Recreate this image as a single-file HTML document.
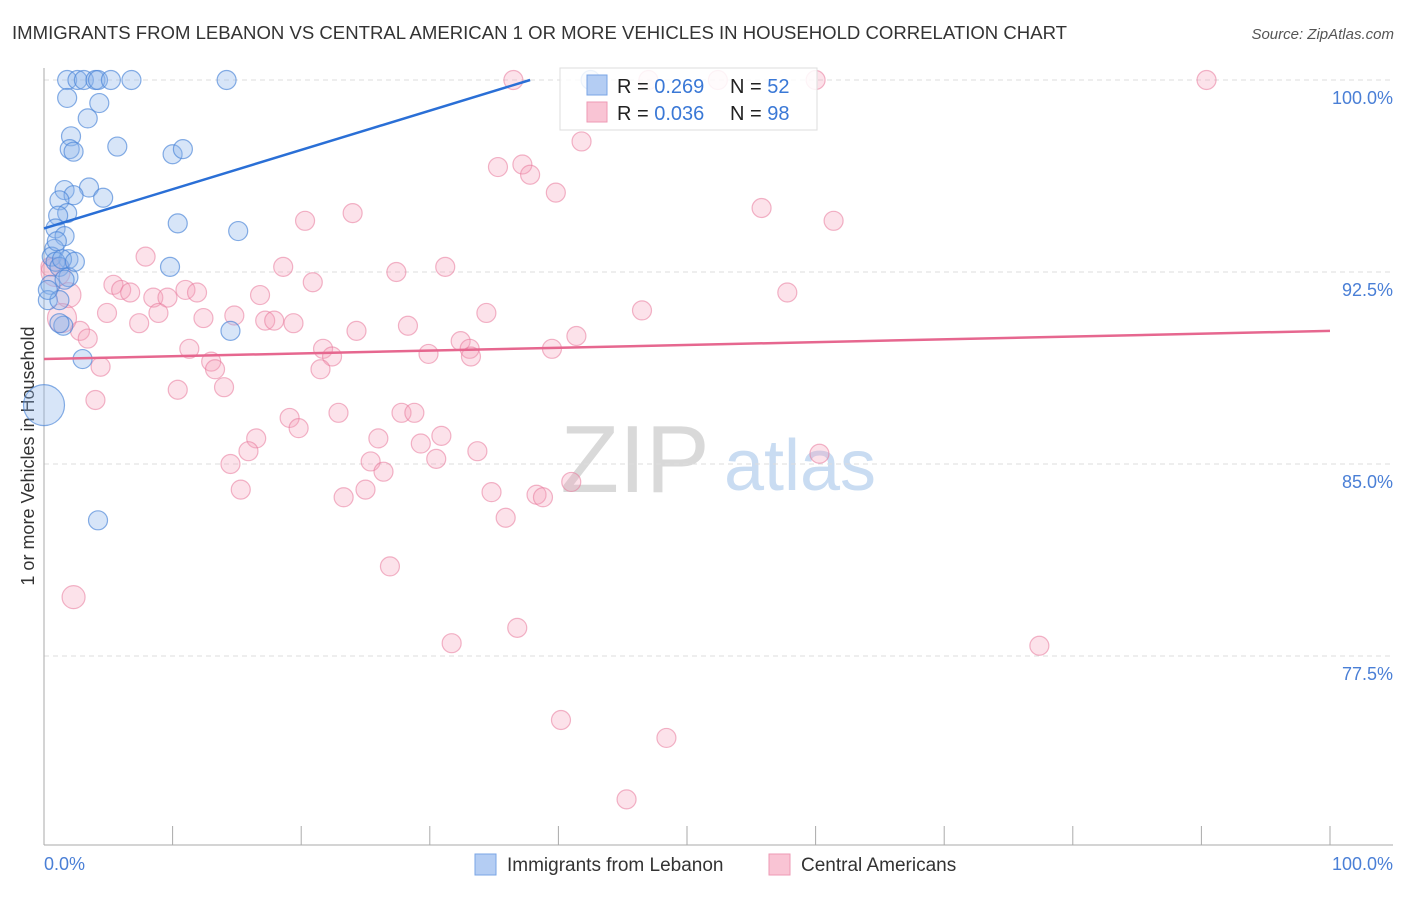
<!DOCTYPE html>
<html><head><meta charset="utf-8"><style>
body{margin:0;background:#fff;font-family:"Liberation Sans",sans-serif;}
svg text{font-family:"Liberation Sans",sans-serif;}
</style></head><body>
<svg id="chart" width="1406" height="892" xmlns="http://www.w3.org/2000/svg">
<text x="12" y="39" font-size="18" fill="#333" textLength="1055" lengthAdjust="spacingAndGlyphs">IMMIGRANTS FROM LEBANON VS CENTRAL AMERICAN 1 OR MORE VEHICLES IN HOUSEHOLD CORRELATION CHART</text>
<text x="1394" y="39" font-size="15" fill="#555" font-style="italic" text-anchor="end">Source: ZipAtlas.com</text>
<text transform="translate(34,456) rotate(-90)" font-size="18" fill="#333" text-anchor="middle">1 or more Vehicles in Household</text>
<g>
<text x="635" y="492" font-size="96" fill="#d9d9d9" text-anchor="middle" font-family="Liberation Serif">ZIP</text>
<text x="800" y="490" font-size="72" fill="#c9dcf2" text-anchor="middle">atlas</text>
</g>
<g id="grid"></g><g id="axes"></g><g id="pts"></g><g id="trend"></g>
<g>
<rect x="560" y="68" width="257" height="62" fill="rgba(255,255,255,0.85)" stroke="#ddd"/>
<rect x="587" y="75" width="20" height="20" fill="#b4cdf3" stroke="#7aa5e6"/>
<rect x="587" y="102" width="20" height="20" fill="#f9c4d4" stroke="#ee9ab4"/>
<text x="617" y="93" font-size="20" fill="#222">R = <tspan fill="#3a78d6">0.269</tspan><tspan x="730">N = </tspan><tspan fill="#3a78d6">52</tspan></text>
<text x="617" y="120" font-size="20" fill="#222">R = <tspan fill="#3a78d6">0.036</tspan><tspan x="730">N = </tspan><tspan fill="#3a78d6">98</tspan></text>
</g>
<g>
<rect x="475" y="854" width="21" height="21" fill="#b4cdf3" stroke="#7aa5e6"/>
<text x="507" y="871" font-size="19" fill="#333">Immigrants from Lebanon</text>
<rect x="769" y="854" width="21" height="21" fill="#f9c4d4" stroke="#ee9ab4"/>
<text x="801" y="871" font-size="19" fill="#333">Central Americans</text>
</g>
</svg>
<script>
const blueX=[1.8,2.6,3.1,4.0,4.2,5.2,6.8,14.2,42.5,1.8,4.3,3.4,5.7,2.1,2.0,2.3,10.0,10.8,1.6,3.5,2.3,1.2,4.6,1.8,1.1,10.4,15.1,0.9,1.6,0.8,0.6,1.9,0.9,1.2,9.8,1.9,0.5,0.3,1.2,1.5,1.2,14.5,3.0,4.2,0,1.4,0.3,2.4,1.0,1.6];
const blueY=[100,100,100,100,100,100,100,100,100,99.3,99.1,98.5,97.4,97.8,97.3,97.2,97.1,97.3,95.7,95.8,95.5,95.3,95.4,94.8,94.7,94.4,94.1,94.2,93.9,93.4,93.1,93.0,92.9,92.7,92.7,92.3,92.0,91.4,91.4,90.4,90.5,90.2,89.1,82.8,87.3,93.0,91.8,92.9,93.7,92.2];
const blueR=[9,9,9,9,9,9,9,9,9,9,9,9,9,9,9,9,9,9,9,9,9,9,9,9,9,9,9,9,9,9,9,9,9,9,9,9,9,9,9,9,9,9,9,9,20,9,9,9,9,9];
const pinkX=[36.5,47.0,52.4,60.0,90.4,41.8,35.3,37.2,37.8,39.8,55.8,61.4,20.3,24.0,7.9,18.6,27.4,31.2,20.9,5.4,6.0,6.7,8.5,9.6,11.0,11.9,16.8,14.8,12.4,8.9,4.9,7.4,1.9,2.8,3.4,17.2,17.9,19.4,24.3,28.3,34.4,46.5,57.8,41.4,32.4,33.1,33.2,29.9,39.5,21.7,22.4,21.5,11.3,13.0,13.3,4.4,10.4,14.0,4.0,22.9,27.8,28.8,19.1,19.8,16.5,15.9,26.0,30.9,29.3,33.7,30.5,14.5,25.4,26.4,41.0,15.3,23.3,25.0,34.8,38.3,38.8,35.9,26.9,60.3,2.3,36.8,31.7,77.4,40.2,48.4,45.3,0.5,0.9,1.4];
const pinkY=[100,100,100,100,100,97.6,96.6,96.7,96.3,95.6,95.0,94.5,94.5,94.8,93.1,92.7,92.5,92.7,92.1,92.0,91.8,91.7,91.5,91.5,91.8,91.7,91.6,90.8,90.7,90.9,90.9,90.5,91.6,90.2,89.9,90.6,90.6,90.5,90.2,90.4,90.9,91.0,91.7,90.0,89.8,89.5,89.2,89.3,89.5,89.5,89.2,88.7,89.5,89.0,88.7,88.8,87.9,88.0,87.5,87.0,87.0,87.0,86.8,86.4,86.0,85.5,86.0,86.1,85.8,85.5,85.2,85.0,85.1,84.7,84.3,84.0,83.7,84.0,83.9,83.8,83.7,82.9,81.0,85.4,79.8,78.6,78.0,77.9,75.0,74.3,71.9,92.7,92.5,90.7];
const pinkR=[9,9,9,9,9,9,9,9,9,9,9,9,9,9,9,9,9,9,9,9,9,9,9,9,9,9,9,9,9,9,9,9,12,9,9,9,9,9,9,9,9,9,9,9,9,9,9,9,9,9,9,9,9,9,9,9,9,9,9,9,9,9,9,9,9,9,9,9,9,9,9,9,9,9,9,9,9,9,9,9,9,9,9,9,11,9,9,9,9,9,9,9,14,14];
const yTicks=[100,92.5,85,77.5];
const yTickLabels=["100.0%","92.5%","85.0%","77.5%"];
const xTicks=[0,10,20,30,40,50,60,70,80,90,100];
const blueTrend=[[0,94.2],[37.8,100]];
const pinkTrend=[[0,89.1],[100,90.2]];
const NS="http://www.w3.org/2000/svg";
const xs=v=>44+v*12.86;
const ys=v=>80+(100-v)*25.6;
function mk(tag,attrs,parent){const e=document.createElementNS(NS,tag);for(const k in attrs)e.setAttribute(k,attrs[k]);document.getElementById(parent).appendChild(e);return e;}
yTicks.forEach((t,i)=>{
 const l=mk('line',{x1:44,x2:1393,y1:ys(t),y2:ys(t),stroke:'#ddd','stroke-dasharray':'5,4'},'grid');
 
 
 const tx=mk('text',{x:1393,y:ys(t)+24,'font-size':18,fill:'#4a7fd6','text-anchor':'end'},'axes');
 tx.textContent=yTickLabels[i];
 
 
});
const ax=mk('line',{x1:44,x2:44,y1:68,y2:845,stroke:'#aaa'},'axes');


const bx=mk('line',{x1:44,x2:1393,y1:845,y2:845,stroke:'#aaa'},'axes');


xTicks.forEach(t=>{
 const l=mk('line',{x1:xs(t),x2:xs(t),y1:826,y2:845,stroke:'#aaa'},'axes');
 
 
});
const xl0=mk('text',{x:44,y:870,'font-size':18,fill:'#4a7fd6'},'axes');xl0.textContent='0.0%';


const xl1=mk('text',{x:1393,y:870,'font-size':18,fill:'#4a7fd6','text-anchor':'end'},'axes');xl1.textContent='100.0%';


pinkX.forEach((x,i)=>{
 const c=mk('circle',{cx:xs(x),cy:ys(pinkY[i]),r:pinkR[i]+0.5,fill:'rgba(244,160,186,0.3)',stroke:'rgba(232,120,155,0.55)','stroke-width':1.2},'pts');
 
 
});
blueX.forEach((x,i)=>{
 const c=mk('circle',{cx:xs(x),cy:ys(blueY[i]),r:blueR[i]+0.5,fill:'rgba(140,180,235,0.35)',stroke:'rgba(70,130,215,0.65)','stroke-width':1.2},'pts');
 
 
});
const tb=mk('line',{x1:xs(blueTrend[0][0]),y1:ys(blueTrend[0][1]),x2:xs(blueTrend[1][0]),y2:ys(blueTrend[1][1]),stroke:'#2a6fd6','stroke-width':2.5},'trend');


const tp=mk('line',{x1:xs(pinkTrend[0][0]),y1:ys(pinkTrend[0][1]),x2:xs(pinkTrend[1][0]),y2:ys(pinkTrend[1][1]),stroke:'#e6678f','stroke-width':2.5},'trend');


</script>
</body></html>
